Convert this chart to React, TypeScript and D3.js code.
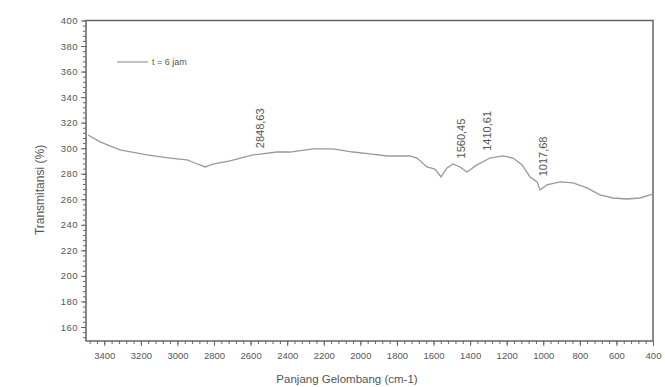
import React, {useEffect, useRef} from 'react';
import * as d3 from 'd3';

// FTIR spectrum, t = 6 jam

const wavenumbers = [3489, 3423, 3314, 3166, 3041, 2948, 2904, 2849, 2806, 2713, 2587, 2456, 2385, 2259, 2150, 2040, 1947, 1854, 1729, 1690, 1636, 1592, 1559, 1526, 1493, 1455, 1417, 1362, 1291, 1220, 1165, 1116, 1072, 1034, 1018, 980, 908, 837, 761, 690, 619, 542, 471, 416, 400];
const transmittance = [310.3, 304.9, 298.6, 294.7, 292.3, 290.8, 288.4, 285.3, 287.6, 290.0, 294.7, 297.0, 297.0, 299.4, 299.4, 297.0, 295.5, 293.9, 293.9, 292.3, 285.3, 283.7, 277.5, 284.5, 287.6, 285.3, 281.4, 286.9, 292.3, 293.9, 292.3, 286.9, 277.5, 273.6, 267.3, 271.2, 273.6, 272.8, 268.9, 263.4, 261.0, 260.2, 261.0, 263.4, 264.2];

const xTicks = [3400, 3200, 3000, 2800, 2600, 2400, 2200, 2000, 1800, 1600, 1400, 1200, 1000, 800, 600, 400];
const yTicks = [160, 180, 200, 220, 240, 260, 280, 300, 320, 340, 360, 380, 400];

// peak labels: text, where it sits on the wavenumber axis, value where the text starts
const peakLabels = ['2848,63', '1560,45', '1410,61', '1017,68'];
const peakAt = [2550, 1450, 1310, 1000];
const peakBase = [300, 292, 298, 278];

const seriesName = 't = 6 jam';

function App() {
    const ref = useRef<SVGSVGElement>(null);

    const width = 665;
    const height = 387;
    const margin = {top: 20.5, right: 12, bottom: 46, left: 86};

    useEffect(() => {
        drawChart();
    }, []);

    function drawChart() {
        const svg = d3.select(ref.current);
        svg.selectAll('*').remove();

        const x = d3.scaleLinear().domain([3500, 400]).range([margin.left, width - margin.right]);
        const y = d3.scaleLinear().domain([149, 400]).range([height - margin.bottom, margin.top]);

        const axisColor = '#666';
        const textColor = '#555';
        const font = 'Liberation Sans, Arial, sans-serif';

        // frame
        svg.append('rect')
            .attr('x', margin.left)
            .attr('y', margin.top)
            .attr('width', width - margin.right - margin.left)
            .attr('height', height - margin.bottom - margin.top)
            .attr('fill', 'none')
            .attr('stroke', axisColor)
            .attr('stroke-width', 1.5);

        // x axis: major ticks + minor every 40
        const xAxis = svg.append('g').attr('transform', `translate(0, ${height - margin.bottom})`);
        xAxis.call(d3.axisBottom(x).tickValues(d3.range(3480, 399, -40)).tickSize(3).tickFormat(() => ''));
        xAxis.append('g').call(d3.axisBottom(x).tickValues(xTicks).tickSize(5).tickFormat(d3.format('d')));
        xAxis.selectAll('.domain').remove();
        xAxis.selectAll('line').attr('stroke', axisColor);
        xAxis.selectAll('text')
            .attr('fill', textColor)
            .attr('font-family', font)
            .attr('font-size', 9.5)
            .attr('dy', '1em');

        // y axis
        const yAxis = svg.append('g').attr('transform', `translate(${margin.left}, 0)`);
        yAxis.call(d3.axisLeft(y).tickValues(d3.range(152, 401, 4)).tickSize(3).tickFormat(() => ''));
        yAxis.append('g').call(d3.axisLeft(y).tickValues(yTicks).tickSize(5).tickFormat(d3.format('d')));
        yAxis.selectAll('.domain').remove();
        yAxis.selectAll('line').attr('stroke', axisColor);
        yAxis.selectAll('text')
            .attr('fill', textColor)
            .attr('font-family', font)
            .attr('font-size', 9.5)
            .attr('letter-spacing', 0.5);

        // spectrum line
        const points = wavenumbers.map((w, i) => [w, transmittance[i]] as [number, number]);
        const line = d3.line<[number, number]>()
            .x((d) => x(d[0]))
            .y((d) => y(d[1]))
            .curve(d3.curveLinear);

        svg.append('path')
            .datum(points)
            .attr('d', line)
            .attr('fill', 'none')
            .attr('stroke', '#999')
            .attr('stroke-width', 1.3);

        // peak labels
        peakLabels.forEach((label, i) => {
            const px = x(peakAt[i]);
            const py = y(peakBase[i]);
            svg.append('text')
                .attr('transform', `translate(${px}, ${py}) rotate(-90)`)
                .attr('dominant-baseline', 'central')
                .attr('font-family', font)
                .attr('font-size', 11)
                .attr('fill', '#555')
                .text(label);
        });

        // legend
        svg.append('line')
            .attr('x1', 117).attr('x2', 148)
            .attr('y1', 62).attr('y2', 62)
            .attr('stroke', '#999')
            .attr('stroke-width', 1.2);
        svg.append('text')
            .attr('x', 152).attr('y', 65)
            .attr('font-family', font)
            .attr('font-size', 9)
            .attr('fill', '#555')
            .text(seriesName);

        // axis titles
        svg.append('text')
            .attr('transform', `translate(40, 190) rotate(-90)`)
            .attr('text-anchor', 'middle')
            .attr('dominant-baseline', 'central')
            .attr('font-family', font)
            .attr('font-size', 12)
            .attr('fill', textColor)
            .text('Transmitansi (%)');

        svg.append('text')
            .attr('x', 347).attr('y', 383)
            .attr('text-anchor', 'middle')
            .attr('font-family', font)
            .attr('font-size', 11.5)
            .attr('fill', textColor)
            .text('Panjang Gelombang (cm-1)');
    }

    return (
        <svg ref={ref} width={width} height={height}
             style={{position: 'absolute', left: 0, top: 0, background: '#fff'}}/>
    );
}

export default App;
